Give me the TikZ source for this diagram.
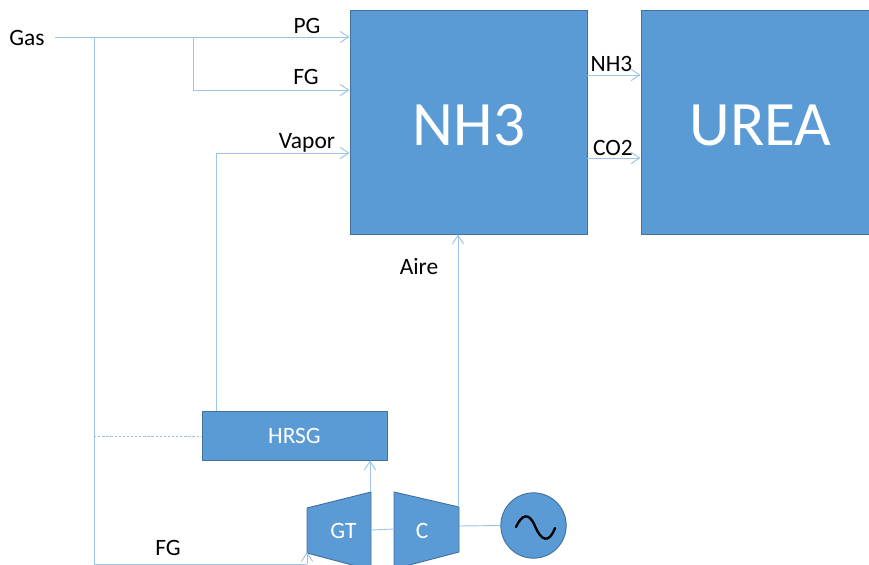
\documentclass[tikz,border=0pt]{standalone}
\usepackage{fontspec}
\setmainfont{Carlito}
\usetikzlibrary{arrows.meta}
\definecolor{boxblue}{HTML}{5B9BD5}
\definecolor{boxedge}{HTML}{41719C}
\definecolor{lineblue}{HTML}{9DC3E6}

\begin{document}
\begin{tikzpicture}[x=0.03cm, y=-0.03cm,
		box_style/.style={rectangle,draw=boxedge,fill=boxblue,text=white,line width=0.8pt,inner sep=0pt},
		turbine_style/.style={draw=boxedge,fill=boxblue,line width=0.8pt},
		text_style/.style={inner sep=0pt,font=\fontsize{20}{24}\selectfont},
		big_style/.style={font=\fontsize{54}{60}\selectfont},
		edge_style/.style={draw=lineblue,line width=0.8pt},
		arrow_style/.style={edge_style,-{Straight Barb[length=2.6mm,width=3.4mm]}}]
		\clip (0,0) rectangle (869,565);
		\node[box_style,minimum width=7.11cm,minimum height=6.72cm] (nh3) at (468.5,122) {};
		\node[box_style,minimum width=7.5cm,minimum height=6.72cm] (urea) at (766,122) {};
		\node[text_style,big_style,text=white] (nh3_text) at (469,125) {NH3};
		\node[text_style,big_style,text=white] (urea_text) at (760.5,125) {UREA};
		\node[box_style,text_style,minimum width=5.55cm,minimum height=1.47cm] (hrsg) at (294.5,435.5) {HRSG};
		\draw[turbine_style] (307,508) -- (371,492) -- (371,570) -- (307,553) -- cycle;
		\draw[turbine_style] (394,492) -- (459,507) -- (459,552) -- (394,569) -- cycle;
		\node[text_style,text=white] (gt) at (343.5,530.5) {GT};
		\node[text_style,text=white] (c) at (422,530.5) {C};
		\node[circle,draw=boxedge,fill=boxblue,line width=0.8pt,minimum size=1.96cm,inner sep=0pt] (gen) at (533.5,525.5) {};
		\node[text_style] (gas) at (27,38) {Gas};
		\node[text_style] (pg) at (307,26) {PG};
		\node[text_style] (fg_top) at (306,77) {FG};
		\node[text_style] (vapor) at (307,143) {Vapor};
		\node[text_style] (nh3_out) at (611.5,64) {NH3};
		\node[text_style] (co2_out) at (613,147.5) {CO2};
		\node[text_style] (aire) at (419,266.5) {Aire};
		\node[text_style] (fg_low) at (168,547.5) {FG};
		\coordinate (gas_start) at (55,37);
		\coordinate (tee_fg) at (193,37);
		\coordinate (tee_gt) at (94,37);
		\coordinate (tee_hrsg) at (94,436);
		\coordinate (fg_line) at (193,90);
		\coordinate (vapor_line) at (216,153);
		\coordinate (vapor_foot) at (216,411);
		\coordinate (low_line) at (94,564);
		\coordinate (gt_foot) at (307,564);
		\coordinate (gt_in) at (307,552);
		\coordinate (gt_top) at (370,492);
		\coordinate (c_top) at (458,507);
		\coordinate (gt_shaft) at (371,530);
		\coordinate (c_shaft) at (394,529);
		\coordinate (c_gen) at (459,526);
		\draw[arrow_style] (gas_start) -- (gas_start -| nh3.west);
		\draw[arrow_style] (tee_fg) -- (fg_line) -- (fg_line -| nh3.west);
		\draw[edge_style] (tee_gt) -- (low_line) -- (gt_foot);
		\draw[arrow_style] (gt_foot) -- (gt_in);
		\draw[edge_style,line width=0.5pt,dash pattern=on 2pt off 1.5pt] (tee_hrsg) -- (tee_hrsg -| hrsg.west);
		\draw[arrow_style] (vapor_foot) -- (vapor_line) -- (vapor_line -| nh3.west);
		\draw[arrow_style] (gt_top) -- (gt_top |- hrsg.south);
		\draw[arrow_style] (c_top) -- (c_top |- nh3.south);
		\draw[edge_style] (gt_shaft) -- (c_shaft);
		\draw[edge_style] (c_gen) -- (gen.west);
		\draw[arrow_style] (nh3.east |- 0,75) -- (urea.west |- 0,75);
		\draw[arrow_style] (nh3.east |- 0,158) -- (urea.west |- 0,158);
		\draw[black,line width=2pt,line cap=round] (516,527) .. controls (522,514) and (529,512) .. (535,526) .. controls (541,541) and (549,544) .. (555,528);
		\end{tikzpicture}
\end{document}
